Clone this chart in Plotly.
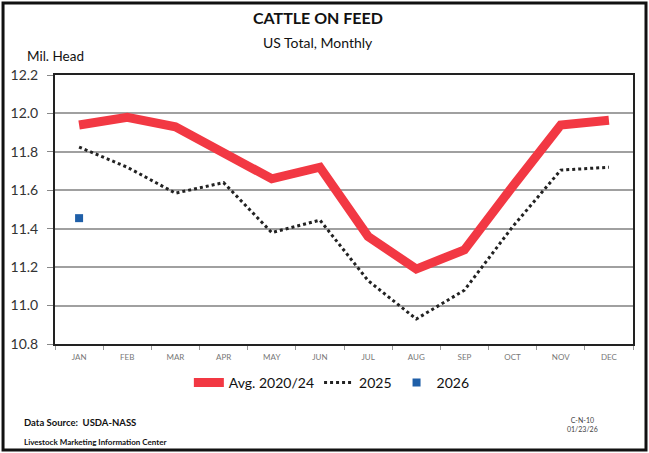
import plotly.graph_objects as go

months = ["JAN", "FEB", "MAR", "APR", "MAY", "JUN", "JUL", "AUG", "SEP", "OCT", "NOV", "DEC"]
avg_2020_24 = [11.94, 11.98, 11.93, 11.79, 11.66, 11.72, 11.36, 11.19, 11.29, 11.62, 11.94, 11.965]
y2025 = [11.825, 11.72, 11.585, 11.64, 11.38, 11.445, 11.13, 10.93, 11.08, 11.41, 11.705, 11.72]
months_2026 = ["JAN"]
y2026 = [11.455]

FONT = "Lato"

fig = go.Figure()
fig.add_trace(go.Scatter(x=months, y=avg_2020_24, mode="lines", name="Avg. 2020/24",
                         line=dict(color="#f23843", width=9)))
fig.add_trace(go.Scatter(x=months, y=y2025, mode="lines", name="2025",
                         line=dict(color="#222222", width=3, dash="dot")))
fig.add_trace(go.Scatter(x=months_2026, y=y2026, mode="markers", name="2026",
                         marker=dict(color="#1f5fa8", size=8, symbol="square")))

fig.update_layout(
    width=649, height=453,
    margin=dict(l=55, r=16, t=75, b=109),
    paper_bgcolor="white", plot_bgcolor="white",
    font=dict(family=FONT, color="#111111"),
    showlegend=True,
    legend=dict(orientation="h", x=0.479, xanchor="center", y=-0.085, yanchor="top",
                font=dict(size=14, color="#111"), itemwidth=30, tracegroupgap=0),
    xaxis=dict(type="category", categoryorder="array", categoryarray=months,
               range=[-0.5, len(months) - 0.5], autorange=False,
               showline=True, mirror=True, linecolor="#222", linewidth=2,
               showgrid=False, ticks="outside", ticklen=4, tickcolor="#999",
               tickson="boundaries", ticklabelstandoff=4,
               tickfont=dict(size=8, color="#777", family=FONT)),
    yaxis=dict(range=[10.8, 12.2], dtick=0.2, tickformat=".1f",
               showline=True, mirror=True, linecolor="#222", linewidth=2,
               showgrid=True, gridcolor="#a0a0a0", gridwidth=1.5,
               ticks="outside", ticklen=6, tickcolor="#888", ticklabelstandoff=6,
               tickfont=dict(size=14, color="#333", family=FONT), zeroline=False),
)

annotations = [
    dict(text="<b>CATTLE ON FEED</b>", x=0.455, y=1.212, font=dict(size=16), xanchor="center", yanchor="middle"),
    dict(text="US Total, Monthly", x=0.455, y=1.119, font=dict(size=14), xanchor="center", yanchor="middle"),
    dict(text="Mil. Head", x=0.0, y=1.071, font=dict(size=13.5), xanchor="center", yanchor="middle"),
    dict(text="<b>Data Source:  USDA-NASS</b>", x=-0.057, y=-0.29, font=dict(size=9.5), xanchor="left", yanchor="middle"),
    dict(text="<b>Livestock Marketing Information Center</b>", x=-0.057, y=-0.365, font=dict(size=8), xanchor="left", yanchor="middle"),
    dict(text="C-N-10<br>01/23/26", x=0.913, y=-0.3, font=dict(size=7, color="#444"), xanchor="center", yanchor="middle"),
]
for a in annotations:
    a.update(xref="paper", yref="paper", showarrow=False)
    fig.add_annotation(**a)

fig.add_shape(type="rect", xref="paper", yref="paper",
              x0=-0.0899, x1=1.0225, y0=-0.394, y1=1.2676,
              line=dict(color="#111", width=3), fillcolor="rgba(0,0,0,0)", layer="above")

fig.write_html("out.html", config={"displayModeBar": False},
               post_script="document.body.style.margin='0';document.body.style.padding='0';")
